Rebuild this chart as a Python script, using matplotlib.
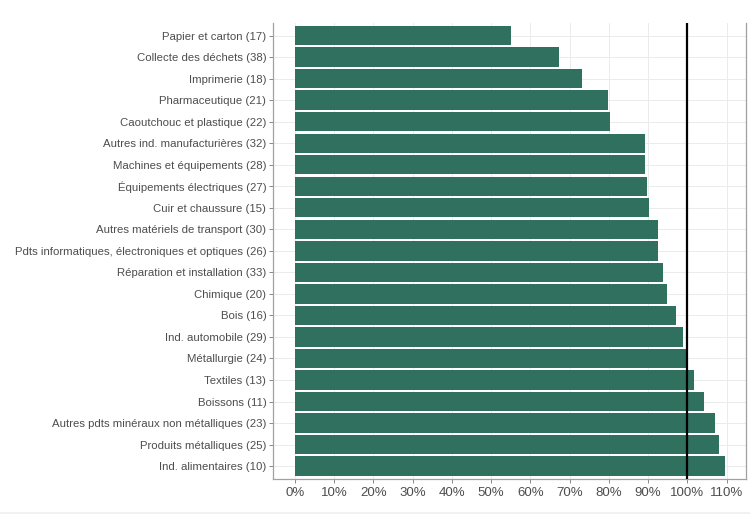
import matplotlib
matplotlib.use("Agg")
import matplotlib.pyplot as plt
from matplotlib.ticker import FuncFormatter

plt.rcParams['font.family'] = ['Liberation Sans', 'DejaVu Sans']

# sectors, top to bottom as in the chart
sectors = [
    "Papier et carton (17)",
    "Collecte des déchets (38)",
    "Imprimerie (18)",
    "Pharmaceutique (21)",
    "Caoutchouc et plastique (22)",
    "Autres ind. manufacturières (32)",
    "Machines et équipements (28)",
    "Équipements électriques (27)",
    "Cuir et chaussure (15)",
    "Autres matériels de transport (30)",
    "Pdts informatiques, électroniques et optiques (26)",
    "Réparation et installation (33)",
    "Chimique (20)",
    "Bois (16)",
    "Ind. automobile (29)",
    "Métallurgie (24)",
    "Textiles (13)",
    "Boissons (11)",
    "Autres pdts minéraux non métalliques (23)",
    "Produits métalliques (25)",
    "Ind. alimentaires (10)",
]
values = [55.2, 67.2, 73.2, 79.8, 80.2, 89.2, 89.1, 89.7, 90.3, 92.6, 92.5,
          93.7, 94.8, 97.1, 98.8, 99.7, 101.6, 104.3, 107.1, 108.0, 109.6]
xticks = list(range(0, 111, 10))
reference = 100

bar_color = "#30705f"
grey_txt = "#4d4d4d"

fig = plt.figure(figsize=(7.5, 5.18), dpi=100)
ax = fig.add_axes([0.3644, 0.0753, 0.6309, 0.8809])

n = len(sectors)
ypos = list(range(n))
ax.barh(ypos, values, height=0.9, color=bar_color, edgecolor="none", zorder=2)
ax.axvline(reference, color="black", lw=1.6, zorder=3)

ax.set_yticks(ypos)
ax.set_yticklabels(sectors)
ax.set_ylim(n - 1 + 0.6, -0.6)
span = max(values)
ax.set_xlim(-0.05 * span, span * 1.05)
ax.set_xticks(xticks)
ax.xaxis.set_major_formatter(FuncFormatter(lambda v, p: f"{v:.0f}%"))

ax.grid(True, color="#ebebeb", lw=0.7, zorder=0)
ax.set_axisbelow(True)

for s in ["left", "bottom", "right"]:
    ax.spines[s].set_color("#a0a0a0")
    ax.spines[s].set_linewidth(0.9)
ax.spines["top"].set_visible(False)

ax.tick_params(axis="y", labelsize=8.2, colors=grey_txt, length=3, width=0.7,
               color="#888888", pad=2)
ax.tick_params(axis="x", labelsize=9.5, colors=grey_txt, length=3, width=0.7,
               color="#888888", pad=3)

# faint separator line at the bottom of the image
fig.add_artist(plt.Line2D([0, 1], [0.01, 0.01], color="#eeeef4", lw=1.2))

fig.savefig("out.png", dpi=100)
